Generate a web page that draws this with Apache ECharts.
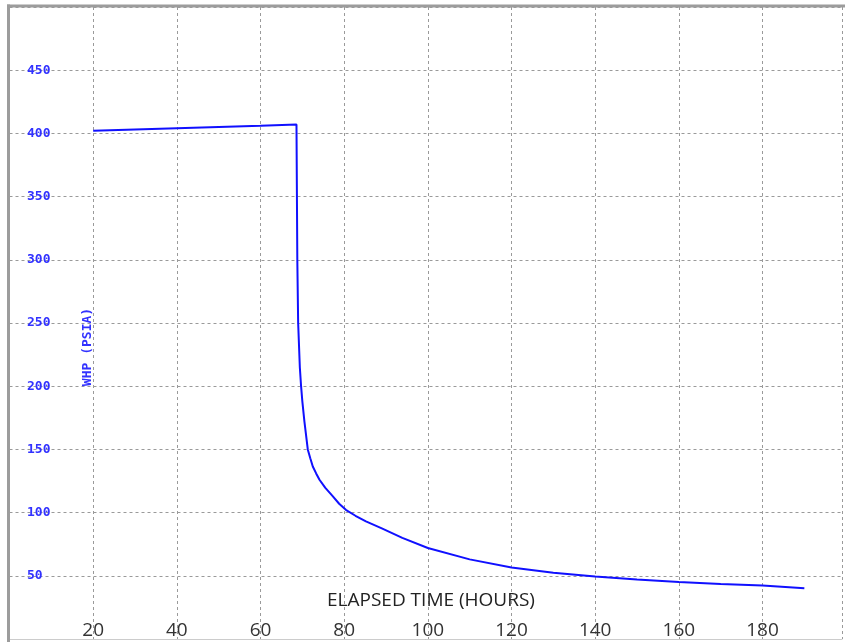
<!DOCTYPE html>
<html>
<head>
<meta charset="utf-8">
<script src="https://cdn.jsdelivr.net/npm/echarts@6/dist/echarts.min.js"></script>
<style>
html,body{margin:0;padding:0;background:#fff;}
#chart{width:845px;height:642px;}
</style>
</head>
<body>
<div id="chart"></div>
<script>
// Elapsed time (hours)
var timeHours = [20, 30, 40, 50, 60, 68.6, 68.8, 69.0, 69.4, 69.7, 70.0, 70.5, 71.3, 71.9, 72.5, 73.3, 74.1, 75.5, 77.3, 78.8, 80.4, 82.7, 85.2, 89, 93.9, 100, 110, 120, 130, 140, 150, 160, 170, 180, 190];
// WHP (PSIA)
var whpPsia = [402, 403, 404, 405, 406, 407, 300, 250, 215, 200, 188, 172, 150, 143, 136.5, 131, 126, 119.5, 112.8, 107, 102.2, 97.5, 93, 87.5, 80, 72, 63, 56.5, 52.5, 49.4, 47, 45, 43.5, 42.3, 40.2];
var xTicks = [20, 40, 60, 80, 100, 120, 140, 160, 180];
var yTicks = [50, 100, 150, 200, 250, 300, 350, 400, 450];
var xTitle = 'ELAPSED TIME (HOURS)';
var yTitle = 'WHP (PSIA)';

var seriesData = timeHours.map(function (t, i) { return [t, whpPsia[i]]; });

var chart = echarts.init(document.getElementById('chart'), null, {renderer: 'canvas'});
var gridStyle = {show: true, lineStyle: {color: '#9a9a9a', type: [3, 3], width: 1}};
chart.setOption({
  animation: false,
  backgroundColor: '#ffffff',
  grid: {left: 9.5, right: 0, top: 7, bottom: 3, containLabel: false},
  xAxis: {
    type: 'value', min: 0, max: 199, interval: 20,
    axisLine: {show: true, onZero: false, lineStyle: {color: '#cccccc', width: 1}},
    axisTick: {show: false},
    splitLine: gridStyle,
    axisLabel: {
      inside: true, margin: -1, verticalAlign: 'bottom',
      color: '#333333', fontSize: 19, fontFamily: 'Open Sans',
      formatter: function (v) { return xTicks.indexOf(v) >= 0 ? String(v) : ''; }
    }
  },
  yAxis: {
    type: 'value', min: 0, max: 500, interval: 50,
    axisLine: {show: false},
    axisTick: {show: false},
    splitLine: gridStyle,
    axisLabel: {
      inside: true, margin: 17.5, verticalAlign: 'middle', align: 'left', padding: [0, 0, 9, 0],
      color: '#3232ff', fontSize: 13, fontWeight: 'bold', fontFamily: 'DejaVu Sans Mono',
      formatter: function (v) { return yTicks.indexOf(v) >= 0 ? String(v) : ''; }
    }
  },
  graphic: [
    {type: 'line', z: 100, shape: {x1: 7, y1: 6, x2: 845, y2: 6}, style: {stroke: '#9c9c9c', lineWidth: 3}},
    {type: 'line', z: 100, shape: {x1: 8.5, y1: 4.5, x2: 8.5, y2: 642}, style: {stroke: '#9c9c9c', lineWidth: 3}},
    {type: 'text', z: 100, left: 327, top: 591, style: {text: xTitle, fill: '#222222', font: '19px "Open Sans"'}},
    {type: 'text', z: 100, x: 88, y: 347, rotation: Math.PI / 2, style: {text: yTitle, fill: '#3232ff', font: 'bold 13px "DejaVu Sans Mono"', textAlign: 'center', textVerticalAlign: 'middle'}}
  ],
  series: [{
    type: 'line', data: seriesData, showSymbol: false, smooth: false,
    lineStyle: {color: '#1010ff', width: 2}
  }]
});
</script>
</body>
</html>
